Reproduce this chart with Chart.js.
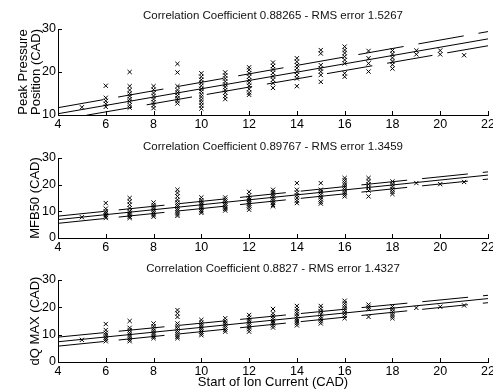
<!DOCTYPE html>
<html><head><meta charset="utf-8">
<script src="https://cdn.jsdelivr.net/npm/chart.js@4.4.0/dist/chart.umd.min.js"></script>
<style>
html,body{margin:0;padding:0;background:#fff;}
#wrap{position:relative;width:493px;height:392px;overflow:hidden;background:#fff;}
canvas{position:absolute;left:0;}
</style></head><body>
<div id="wrap">
<canvas id="c1" width="493" height="135" style="top:0px"></canvas>
<canvas id="c2" width="493" height="123" style="top:135px"></canvas>
<canvas id="c3" width="493" height="134" style="top:258px"></canvas>
</div>
<script>
// ---- data ----
const startIon = [5,6,7,8,9,10,11,12,13,14,15,16,17,18,19,20,21];

const peakPressure = [
  [11.8],
  [16.8,14.0,13.3,12.6,11.9],
  [20.0,16.7,15.8,15.0,14.4,13.7,13.1,12.3,11.7],
  [16.7,15.9,15.1,14.4,13.7,13.0,12.3,11.6],
  [21.9,19.9,16.7,15.8,15.2,14.5,13.9,13.3,12.7],
  [19.7,18.9,18.2,17.5,16.8,16.1,15.5,14.8,14.2,13.5,12.9,12.2,11.5],
  [19.9,19.2,18.5,17.8,17.1,16.5,15.8,15.2,14.4,13.7],
  [21.1,20.5,19.7,18.9,18.1,17.5,16.8,16.0,15.2,14.7],
  [22.2,21.4,20.6,19.8,19.0,18.2,17.4,16.3],
  [23.2,22.4,21.6,20.9,20.1,19.3,18.5,16.7],
  [25.1,24.3,21.6,20.8,20.1,19.3,17.7],
  [25.9,25.1,24.4,23.6,22.8,22.0,19.7,18.9],
  [24.9,23.2,22.0,20.1],
  [25.0,24.2,23.3,22.5,21.7,20.8],
  [25.0,24.1],
  [25.0,24.1],
  [23.9]
];

const mfb50 = [
  [7.8],
  [13.1,11.0,10.0,9.3,8.6,8.0,7.5],
  [15.0,13.7,12.5,11.2,10.0,9.3,8.7,8.0,7.5],
  [13.3,12.4,11.6,10.8,10.0,9.3,8.6,8.0],
  [18.1,16.9,15.6,14.3,13.3,12.5,11.8,11.1,10.4,9.7,9.0,8.3],
  [15.2,14.2,13.4,12.7,12.0,11.3,10.6,10.0,9.4],
  [15.2,14.4,13.6,12.9,12.2,11.5,10.9,10.3],
  [17.3,16.0,15.0,14.3,13.6,12.9,12.2,11.5,10.6],
  [18.1,17.2,16.4,15.6,14.8,14.0,13.2,12.4,11.9],
  [20.6,18.1,17.0,16.0,15.0,14.0,13.1],
  [20.6,18.1,17.2,16.3,15.4,14.5,13.6,12.9],
  [22.5,21.6,20.7,19.8,19.0,18.1,17.2,16.4,15.6],
  [22.5,21.3,20.1,18.9,17.8,15.6],
  [21.2,20.2,19.2,18.2,17.3,16.5],
  [20.6],
  [20.2],
  [21.0]
];

const dqMax = [
  [8.1],
  [13.9,11.7,10.7,9.9,9.0,8.3,7.6],
  [15.0,12.5,11.6,10.7,9.9,9.1,8.3,7.6],
  [14.1,13.1,12.2,11.4,10.6,9.9,9.2,8.7],
  [19.0,17.8,16.5,14.1,13.2,12.3,11.5,10.7,9.9,9.2,8.7],
  [15.4,14.4,13.6,12.8,12.0,11.2,10.5,9.8],
  [16.0,15.0,14.2,13.4,12.6,11.8,11.1],
  [17.2,16.2,15.3,14.5,13.7,12.9,12.0,11.1],
  [19.4,17.8,16.8,15.9,15.0,14.2,13.4,12.6],
  [20.5,19.4,18.5,17.6,16.7,15.8,15.0,14.2,13.4],
  [20.5,19.5,18.5,17.5,16.6,15.8,14.9,14.1],
  [22.4,21.5,20.6,19.7,18.8,17.9,17.0,16.0],
  [21.0,20.2,19.5,16.5],
  [20.3,19.4,18.5,17.6,16.8,16.0],
  [19.8],
  [20.2],
  [20.7]
];

// regression line and bounds, evaluated at the x-axis ends
const fitX = [4, 22];
const peakFit = [10.3, 27.7], peakUpper = [11.7, 29.4], peakLower = [8.8, 26.1];
const mfbFit = [6.9, 23.6], mfbUpper = [8.2, 24.8], mfbLower = [5.5, 22.1];
const dqFit = [7.4, 23.2], dqUpper = [9.1, 24.4], dqLower = [5.8, 21.7];

const xTicks = [4,6,8,10,12,14,16,18,20,22];

// ---- rendering ----
Chart.defaults.font.family = "'Liberation Sans', Arial, Helvetica, sans-serif";
Chart.defaults.color = '#000';

const matlabAxes = {
  id: 'matlabAxes',
  afterDraw(chart, args, opts) {
    const {ctx, chartArea: a} = chart;
    const x = chart.scales.x, y = chart.scales.y;
    ctx.save();
    ctx.strokeStyle = '#000';
    ctx.lineWidth = 1;
    ctx.beginPath();
    x.ticks.forEach(t => {
      const px = Math.round(x.getPixelForValue(t.value)) + 0.5;
      ctx.moveTo(px, a.bottom); ctx.lineTo(px, a.bottom - 4);
    });
    y.ticks.forEach(t => {
      const py = Math.round(y.getPixelForValue(t.value)) + 0.5;
      ctx.moveTo(a.left, py); ctx.lineTo(a.left + 4, py);
    });
    ctx.stroke();
    ctx.fillStyle = '#111';
    ctx.font = "11.5px 'Liberation Sans', Arial, sans-serif";
    ctx.textAlign = 'center';
    ctx.textBaseline = 'alphabetic';
    ctx.fillText(opts.text, (a.left + a.right) / 2, opts.y);
    ctx.restore();
  }
};

function makeChart(id, cfg) {
  const pts = [];
  startIon.forEach((xv, i) => cfg.values[i].forEach(v => pts.push({x: xv, y: v})));
  const line = (ys, dash, off) => ({
    data: fitX.map((xv, i) => ({x: xv, y: ys[i]})),
    showLine: true, borderColor: '#000', borderWidth: 1,
    borderDash: dash, borderDashOffset: off || 0,
    pointRadius: 0, fill: false, tension: 0
  });
  new Chart(document.getElementById(id), {
    type: 'scatter',
    data: {
      datasets: [
        {data: pts, pointStyle: 'crossRot', pointRadius: 3, borderColor: '#000', borderWidth: 1, backgroundColor: '#000'},
        line(cfg.fit, []),
        line(cfg.upper, [46, 15], cfg.upOff),
        line(cfg.lower, [46, 15], cfg.loOff)
      ]
    },
    options: {
      responsive: false, animation: false, events: [],
      layout: {padding: {top: cfg.top, left: 0, right: 5, bottom: 0}},
      plugins: {
        legend: {display: false}, tooltip: {enabled: false},
        matlabAxes: {text: cfg.title, y: cfg.titleY}
      },
      scales: {
        x: {
          type: 'linear', min: 4, max: 22,
          afterBuildTicks(s) { s.ticks = xTicks.map(v => ({value: v})); },
          grid: {display: false, drawTicks: false},
          border: {display: true, color: '#000', width: 1},
          ticks: {color: '#000', font: {size: 12.5}, padding: 2, maxRotation: 0, autoSkip: false},
          title: cfg.xTitle ? {display: true, text: cfg.xTitle, color: '#000', font: {size: 13, lineHeight: 1}, padding: {top: 0, bottom: 3}} : {display: false},
          afterFit(s) { s.height = cfg.xh; s.paddingLeft = 0; s.paddingRight = 0; }
        },
        y: {
          type: 'linear', min: cfg.ymin, max: 30,
          afterBuildTicks(s) { s.ticks = cfg.yTicks.map(v => ({value: v})); },
          grid: {display: false, drawTicks: false},
          border: {display: true, color: '#000', width: 1},
          ticks: {color: '#000', font: {size: 12.5}, padding: 2},
          title: {display: true, text: cfg.yTitle, color: '#000', font: {size: 13, lineHeight: 1}, padding: {top: cfg.yTitlePad, bottom: 0}},
          afterFit(s) { s.width = 58; s.paddingTop = 0; s.paddingBottom = 0; }
        }
      }
    },
    plugins: [matlabAxes]
  });
}

makeChart('c1', {
  values: peakPressure, fit: peakFit, upper: peakUpper, lower: peakLower, upOff: 0, loOff: 32,
  ymin: 10, yTicks: [10, 20, 30], top: 29, xh: 20,
  title: 'Correlation Coefficient 0.88265 - RMS error 1.5267', titleY: 19,
  yTitle: ['Peak Pressure', 'Position (CAD)'], yTitlePad: 17
});
makeChart('c2', {
  values: mfb50, fit: mfbFit, upper: mfbUpper, lower: mfbLower, upOff: 0, loOff: 0,
  ymin: 0, yTicks: [0, 10, 20, 30], top: 23, xh: 20,
  title: 'Correlation Coefficient 0.89767 - RMS error 1.3459', titleY: 15,
  yTitle: 'MFB50 (CAD)', yTitlePad: 28.5
});
makeChart('c3', {
  values: dqMax, fit: dqFit, upper: dqUpper, lower: dqLower, upOff: 0, loOff: 0,
  ymin: 0, yTicks: [0, 10, 20, 30], top: 22, xh: 30,
  title: 'Correlation Coefficient 0.8827 - RMS error 1.4327', titleY: 14.3,
  yTitle: 'dQ MAX (CAD)', yTitlePad: 28.5, xTitle: 'Start of Ion Current (CAD)'
});
</script>
</body></html>
